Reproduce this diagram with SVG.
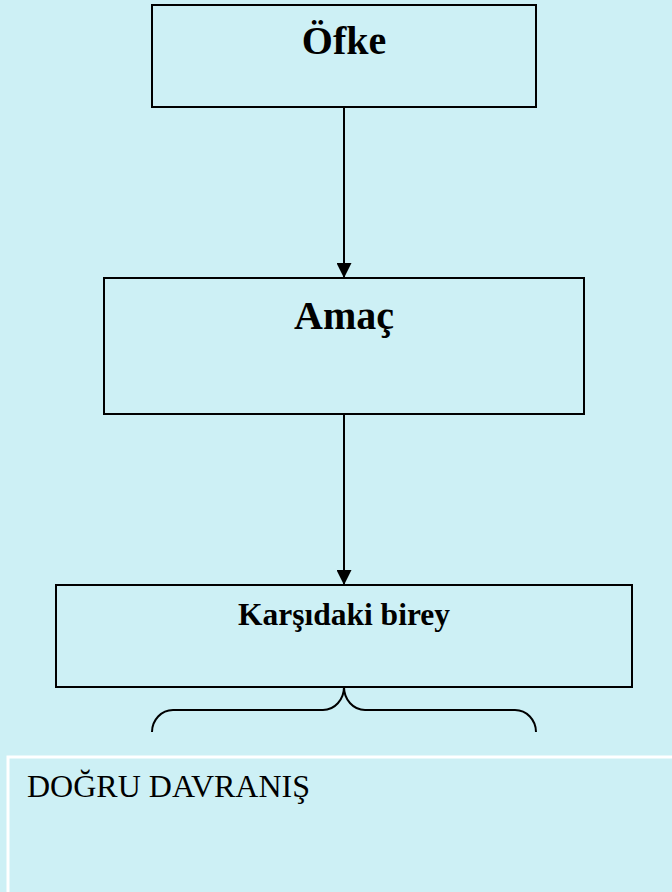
<svg xmlns="http://www.w3.org/2000/svg" width="672" height="892" viewBox="0 0 672 892">
<defs>
<style>
.box{fill:none;stroke:#000;stroke-width:2}
.lbl{font-family:"Liberation Serif","Times New Roman",serif;font-weight:bold;fill:#000;text-anchor:middle}
.conn{stroke:#000;stroke-width:2;fill:none}
</style>
<marker id="arr" markerUnits="userSpaceOnUse" markerWidth="16" markerHeight="15" refX="15" refY="7.5" orient="auto">
<path d="M0,0 L15,7.5 L0,15 Z" fill="#000"/>
</marker>
</defs>
<rect x="0" y="0" width="672" height="892" fill="#CDF0F5"/>
<g id="node-ofke">
<rect class="box" x="152" y="5" width="384" height="102"/>
<text class="lbl" x="344" y="54" font-size="40">Öfke</text>
</g>
<g id="node-amac">
<rect class="box" x="104" y="278" width="480" height="136"/>
<text class="lbl" x="344" y="329" font-size="40">Amaç</text>
</g>
<g id="node-karsidaki">
<rect class="box" x="56" y="585" width="576" height="102"/>
<text class="lbl" x="344" y="625" font-size="31.5">Karşıdaki birey</text>
</g>
<g id="node-dogru">
<rect x="8" y="757" width="700" height="160" fill="none" stroke="#fff" stroke-width="3"/>
<text x="27" y="797" font-size="32" font-family="'Liberation Serif','Times New Roman',serif" fill="#000">DOĞRU DAVRANIŞ</text>
</g>
<g id="connectors">
<line class="conn" x1="344" y1="107" x2="344" y2="278" marker-end="url(#arr)"/>
<line class="conn" x1="344" y1="414" x2="344" y2="585" marker-end="url(#arr)"/>
<path class="conn" d="M152,732 A21,22 0 0 1 173,710 H323 A21,23 0 0 0 344,687 A21,23 0 0 0 365,710 H515 A21,22 0 0 1 536,732"/>
</g>
</svg>
